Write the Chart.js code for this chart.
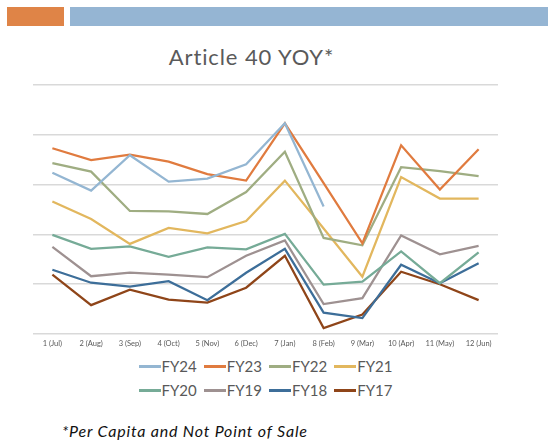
<!DOCTYPE html>
<html>
<head>
<meta charset="utf-8">
<script src="https://cdn.jsdelivr.net/npm/chart.js@4/dist/chart.umd.min.js"></script>
<style>
  html, body { margin: 0; padding: 0; background: #fff; }
  body { width: 548px; height: 443px; position: relative; overflow: hidden; font-family: Lato, "DejaVu Sans", sans-serif; }
  .bar { position: absolute; top: 7px; height: 19px; }
  .bar-orange { left: 7px; width: 57px; background: #df8447; }
  .bar-blue { left: 70px; right: 0; background: #95b5d3; }
  #title { position: absolute; top: 43px; left: 0; width: 503px; text-align: center; font-size: 22px; color: #5a5a5a; letter-spacing: 0.9px; }
  #chart-wrap { position: absolute; left: 0; top: 78px; width: 548px; height: 275px; }
  #legend { position: absolute; left: 33px; width: 465px; top: 354px; font-size: 15px; color: #595959; }
  .legend-row { display: flex; justify-content: center; height: 24px; align-items: center; }
  .legend-item { display: flex; align-items: center; margin: 0 3.5px; }
  .legend-line { width: 22px; height: 3px; margin-right: 1px; }
  #note { position: absolute; left: 62px; top: 421px; font-size: 16px; font-style: italic; color: #111; letter-spacing: 0.8px; }
</style>
</head>
<body>
<div class="bar bar-orange"></div>
<div class="bar bar-blue"></div>
<div id="title">Article 40 YOY*</div>
<div id="chart-wrap"><canvas id="chart"></canvas></div>
<div id="legend"></div>
<div id="note">*Per Capita and Not Point of Sale</div>
<script>
const months = ["1 (Jul)", "2 (Aug)", "3 (Sep)", "4 (Oct)", "5 (Nov)", "6 (Dec)",
  "7 (Jan)", "8 (Feb)", "9 (Mar)", "10 (Apr)", "11 (May)", "12 (Jun)"];

const fy24 = [3.24, 2.88, 3.59, 3.06, 3.12, 3.41, 4.23, 2.56, null, null, null, null];
const fy23 = [3.73, 3.49, 3.60, 3.46, 3.21, 3.08, 4.23, 3.03, 1.82, 3.79, 2.90, 3.71];
const fy22 = [3.43, 3.26, 2.47, 2.46, 2.41, 2.85, 3.66, 1.93, 1.78, 3.35, 3.27, 3.17];
const fy21 = [2.66, 2.31, 1.81, 2.13, 2.02, 2.27, 3.08, 2.12, 1.15, 3.15, 2.72, 2.72];
const fy20 = [1.99, 1.71, 1.76, 1.55, 1.74, 1.70, 2.01, 0.99, 1.05, 1.66, 1.02, 1.64];
const fy19 = [1.75, 1.16, 1.23, 1.19, 1.14, 1.57, 1.88, 0.60, 0.72, 1.98, 1.60, 1.77];
const fy18 = [1.29, 1.03, 0.95, 1.06, 0.68, 1.23, 1.71, 0.43, 0.32, 1.39, 1.02, 1.42];
const fy17 = [1.19, 0.58, 0.89, 0.69, 0.63, 0.93, 1.57, 0.12, 0.39, 1.25, 1.00, 0.68];

const seriesNames = ["FY24", "FY23", "FY22", "FY21", "FY20", "FY19", "FY18", "FY17"];
const seriesColors = ["#94b6d2", "#e07b3f", "#9fad82", "#e2b75e", "#76ab97", "#9e9191", "#3d6e99", "#8f4519"];
const seriesData = [fy24, fy23, fy22, fy21, fy20, fy19, fy18, fy17];

const chart = new Chart(document.getElementById("chart"), {
  type: "line",
  data: {
    labels: months,
    datasets: seriesNames.map((name, i) => ({
      label: name,
      data: seriesData[i],
      borderColor: seriesColors[i],
      backgroundColor: seriesColors[i],
      borderWidth: 2.25,
      pointRadius: 0,
      tension: 0,
      spanGaps: false,
    })),
  },
  options: {
    responsive: true,
    maintainAspectRatio: false,
    animation: false,
    layout: { padding: { left: 33, right: 50, top: 7, bottom: 0 } },
    plugins: {
      legend: { display: false },
      tooltip: { enabled: false },
    },
    scales: {
      x: {
        offset: true,
        grid: { display: false, drawTicks: false },
        border: { display: false },
        ticks: {
          color: "#595959",
          font: { family: "Lato", size: 7.5 },
          maxRotation: 0,
          autoSkip: false,
          padding: 5,
        },
      },
      y: {
        min: 0,
        max: 5,
        ticks: { display: false, stepSize: 1 },
        grid: { color: "#d9d9d9", lineWidth: 1.5, drawTicks: false },
        border: { display: false },
      },
    },
  },
});

// legend in two rows of four, as in the reference
const legendEl = document.getElementById("legend");
for (let r = 0; r < 2; r++) {
  const row = document.createElement("div");
  row.className = "legend-row";
  row.innerHTML = seriesNames.slice(r * 4, r * 4 + 4)
    .map((name, j) => `<span class="legend-item"><span class="legend-line" style="background:${seriesColors[r * 4 + j]}"></span>${name}</span>`)
    .join("");
  legendEl.appendChild(row);
}
</script>
</body>
</html>
